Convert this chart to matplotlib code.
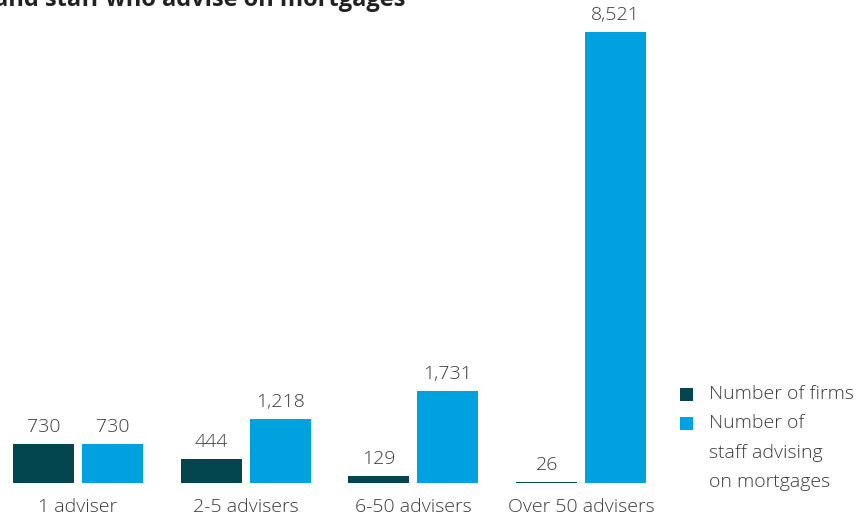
import matplotlib
matplotlib.use("Agg")
import matplotlib.pyplot as plt
from matplotlib.patches import Rectangle
import numpy as np

categories = ["1 adviser", "2-5 advisers", "6-50 advisers", "Over 50 advisers"]
firms = [730, 444, 129, 26]
staff = [730, 1218, 1731, 8521]
series_names = ["Number of firms", "Number of\nstaff advising\non mortgages"]
title = "Number of firms and staff who advise on mortgages"

DARK = "#034650"
LIGHT = "#00A1DF"
TEXT = "#3a3a3a"
FS = 14

plt.rcParams["font.family"] = ["Open Sans", "DejaVu Sans"]

W, H = 863, 515
fig = plt.figure(figsize=(W / 100, H / 100), dpi=100)

base_px = 483
ax = fig.add_axes([0, (H - base_px) / H, 1, base_px / H])

x = np.arange(len(categories))
bw = 0.364
off = 0.2057
b1 = ax.bar(x - off, firms, bw, color=DARK)
b2 = ax.bar(x + off, staff, bw, color=LIGHT)

top_val = max(staff)
ax.set_ylim(0, top_val * base_px / 451)
ax.set_xlim(-0.465, 4.68)

for bars, vals in ((b1, firms), (b2, staff)):
    for r, v in zip(bars, vals):
        ax.annotate(f"{v:,}", (r.get_x() + r.get_width() / 2, v),
                    xytext=(0, 8), textcoords="offset pixels",
                    ha="center", va="bottom", fontsize=FS,
                    fontweight="light", color=TEXT)

ax.set_xticks(x)
ax.set_xticklabels(categories, fontsize=FS, fontweight="light", color=TEXT)
ax.tick_params(axis="x", length=0, pad=11)
ax.set_yticks([])
for s in ax.spines.values():
    s.set_visible(False)

# legend drawn by hand so the swatch lines up with the first text line
sw = 13
tx0 = 709
row_y = [394, 423]
line_gap = 29.5
for (colour, label, yc) in zip((DARK, LIGHT), series_names, row_y):
    fig.patches.append(Rectangle((680 / W, (H - yc - sw / 2) / H), sw / W, sw / H,
                                 transform=fig.transFigure, facecolor=colour,
                                 edgecolor="none"))
    for i, line in enumerate(label.split("\n")):
        fig.text(tx0 / W, (H - yc - i * line_gap) / H, line, ha="left",
                 va="center", fontsize=FS, fontweight="light", color=TEXT)

fig.text(405 / W, (H - 6) / H, title, ha="right", va="baseline",
         fontsize=17, fontweight="bold", color="#222222")

fig.savefig("out.png", dpi=100)
